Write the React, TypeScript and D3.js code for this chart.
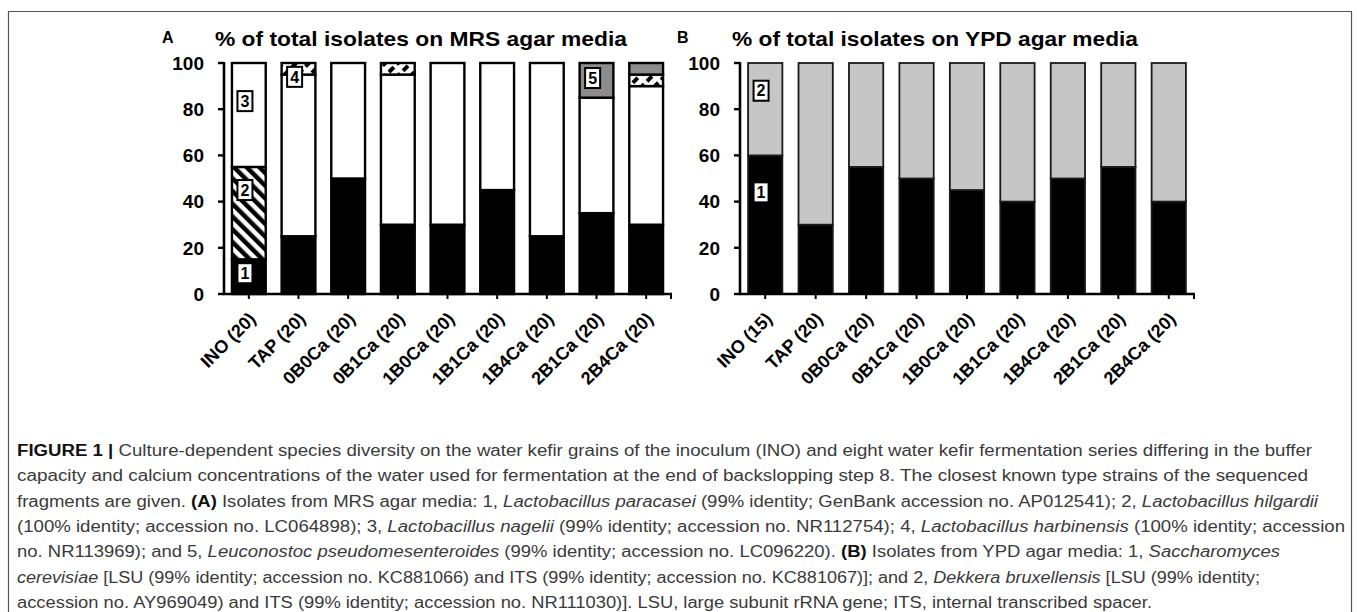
import React from "react";
import * as d3 from "d3";

// ---------- data ----------
const catsA = ["INO (20)", "TAP (20)", "0B0Ca (20)", "0B1Ca (20)", "1B0Ca (20)", "1B1Ca (20)", "1B4Ca (20)", "2B1Ca (20)", "2B4Ca (20)"];
const catsB = ["INO (15)", "TAP (20)", "0B0Ca (20)", "0B1Ca (20)", "1B0Ca (20)", "1B1Ca (20)", "1B4Ca (20)", "2B1Ca (20)", "2B4Ca (20)"];

// MRS (panel A), stacked bottom -> top, species 1..5
const mrs1 = [15, 25, 50, 30, 30, 45, 25, 35, 30];
const mrs2 = [40, 0, 0, 0, 0, 0, 0, 0, 0];
const mrs3 = [45, 70, 50, 65, 70, 55, 75, 50, 60];
const mrs4 = [0, 5, 0, 5, 0, 0, 0, 0, 5];
const mrs5 = [0, 0, 0, 0, 0, 0, 0, 15, 5];

// YPD (panel B), species 1..2
const ypd1 = [60, 30, 55, 50, 45, 40, 50, 55, 40];
const ypd2 = [40, 70, 45, 50, 55, 60, 50, 45, 60];

const yTicks = [0, 20, 40, 60, 80, 100];

// numbered boxes: [category index, value, text]
const boxesA: [number, number, string][] = [
  [0, 9, "1"],
  [0, 45, "2"],
  [0, 83.5, "3"],
  [1, 94, "4"],
  [7, 93.5, "5"],
];
const boxesB: [number, number, string][] = [
  [0, 44, "1"],
  [0, 88, "2"],
];

const titleA = "% of total isolates on MRS agar media";
const titleB = "% of total isolates on YPD agar media";

const FONT = "Arial, 'Liberation Sans', Helvetica, sans-serif";
const CAPFONT = "'Liberation Sans', Arial, sans-serif";

// ---------- geometry ----------
const W = 1357;
const H = 612;
const yTop = 63;
const yBot = 294;
const y = d3.scaleLinear().domain([0, 100]).range([yBot, yTop]);

type PanelProps = {
  cats: string[];
  series: number[][];
  fills: string[];
  stroke: string;
  strokeW: number;
  x0: number;
  x1: number;
  boxes: [number, number, string][];
  boxDx: number;
};

function Panel({ cats, series, fills, stroke, strokeW, x0, x1, boxes, boxDx }: PanelProps) {
  const x = d3.scaleBand<string>().domain(cats).range([x0, x1]).paddingInner(0.32).paddingOuter(0.16);
  const rows = cats.map((c, i) => {
    const o: any = { cat: c };
    series.forEach((s, k) => (o["s" + k] = s[i]));
    return o;
  });
  const keys = series.map((_, k) => "s" + k);
  const stacked = d3.stack<any>().keys(keys)(rows);
  const bw = x.bandwidth();
  return (
    <g>
      {stacked.map((layer, k) =>
        layer.map((d, i) => {
          if (d[1] - d[0] <= 0) return null;
          return (
            <rect
              key={k + "-" + i}
              x={x(cats[i])!}
              y={y(d[1])}
              width={bw}
              height={y(d[0]) - y(d[1])}
              fill={fills[k]}
              stroke={stroke}
              strokeWidth={strokeW}
            />
          );
        })
      )}
      {/* y axis */}
      <line x1={x0} x2={x0} y1={y(0)} y2={y(100) - 1} stroke="#000" strokeWidth={2.6} />
      {yTicks.map((t) => (
        <g key={t}>
          <line x1={x0 - 6} x2={x0} y1={y(t)} y2={y(t)} stroke="#000" strokeWidth={2.4} />
          <text x={x0 - 20} y={y(t)} dy="0.36em" textAnchor="end" fontFamily={FONT} fontWeight="bold" fontSize={19} fill="#000">
            {t}
          </text>
        </g>
      ))}
      {/* x axis */}
      <line x1={x0 - 1} x2={x1 + 1} y1={y(0)} y2={y(0)} stroke="#000" strokeWidth={2.6} />
      {cats.map((c) => (
        <line key={c} x1={x(c)! + bw / 2} x2={x(c)! + bw / 2} y1={y(0)} y2={y(0) + 5} stroke="#000" strokeWidth={2} />
      ))}
      <line x1={x1} x2={x1} y1={y(0)} y2={y(0) + 5} stroke="#000" strokeWidth={2} />
      {cats.map((c) => {
        const cx = x(c)! + bw / 2 + 8;
        const cy = y(0) + 26;
        return (
          <text
            key={"l" + c}
            x={cx}
            y={cy}
            transform={`rotate(-45 ${cx} ${cy})`}
            textAnchor="end"
            fontFamily={FONT}
            fontWeight="bold"
            fontSize={18}
            fill="#000"
          >
            {c}
          </text>
        );
      })}
      {boxes.map(([ci, v, t]) => {
        const cx = x(cats[ci])! + boxDx;
        const cy = y(v);
        return (
          <g key={"b" + t}>
            <rect x={cx - 7.5} y={cy - 10} width={15} height={20} fill="#fff" stroke="#000" strokeWidth={2} />
            <text x={cx} y={cy} dy="0.36em" textAnchor="middle" fontFamily={FONT} fontWeight="bold" fontSize={16} fill="#000">
              {t}
            </text>
          </g>
        );
      })}
    </g>
  );
}

const captionLines: { parts: { t: string; b?: boolean; i?: boolean }[]; end: number }[] = [
  {
    parts: [
      { t: "FIGURE 1 | ", b: true },
      { t: "Culture-dependent species diversity on the water kefir grains of the inoculum (INO) and eight water kefir fermentation series differing in the buffer" },
    ],
    end: 1312,
  },
  {
    parts: [
      { t: "capacity and calcium concentrations of the water used for fermentation at the end of backslopping step 8. The closest known type strains of the sequenced" },
    ],
    end: 1308,
  },
  {
    parts: [
      { t: "fragments are given. " },
      { t: "(A)", b: true },
      { t: " Isolates from MRS agar media: 1, " },
      { t: "Lactobacillus paracasei", i: true },
      { t: " (99% identity; GenBank accession no. AP012541); 2, " },
      { t: "Lactobacillus hilgardii", i: true },
    ],
    end: 1318,
  },
  {
    parts: [
      { t: "(100% identity; accession no. LC064898); 3, " },
      { t: "Lactobacillus nagelii", i: true },
      { t: " (99% identity; accession no. NR112754); 4, " },
      { t: "Lactobacillus harbinensis", i: true },
      { t: " (100% identity; accession" },
    ],
    end: 1345,
  },
  {
    parts: [
      { t: "no. NR113969); and 5, " },
      { t: "Leuconostoc pseudomesenteroides", i: true },
      { t: " (99% identity; accession no. LC096220). " },
      { t: "(B)", b: true },
      { t: " Isolates from YPD agar media: 1, " },
      { t: "Saccharomyces", i: true },
    ],
    end: 1280,
  },
  {
    parts: [
      { t: "cerevisiae", i: true },
      { t: " [LSU (99% identity; accession no. KC881066) and ITS (99% identity; accession no. KC881067)]; and 2, " },
      { t: "Dekkera bruxellensis", i: true },
      { t: " [LSU (99% identity;" },
    ],
    end: 1260,
  },
  {
    parts: [
      { t: "accession no. AY969049) and ITS (99% identity; accession no. NR111030)]. LSU, large subunit rRNA gene; ITS, internal transcribed spacer." },
    ],
    end: 1152,
  },
];

export default function App() {
  const capX = 17;
  return (
    <div style={{ position: "absolute", left: 0, top: 0, width: W, height: H, overflow: "hidden", background: "#fff" }}>
      <svg width={W} height={H} viewBox={`0 0 ${W} ${H}`} style={{ display: "block" }}>
        <defs>
          <pattern id="hatchDown" patternUnits="userSpaceOnUse" width={9} height={9} patternTransform="rotate(-45)">
            <rect x={0} y={0} width={9} height={9} fill="#fff" />
            <rect x={0} y={0} width={4.5} height={9} fill="#000" />
          </pattern>
          <pattern id="hatchUpDash" patternUnits="userSpaceOnUse" width={9} height={11} patternTransform="rotate(45)">
            <rect x={0} y={0} width={9} height={11} fill="#fff" />
            <rect x={0} y={0} width={4} height={7} fill="#000" />
          </pattern>
        </defs>
        <rect x={0} y={0} width={W} height={H} fill="#fff" />
        {/* frame */}
        <path d={`M8.5,${H + 5} V11.5 H1351.5 V${H + 5}`} fill="none" stroke="#555" strokeWidth={1.2} />

        {/* panel letters and titles */}
        <text x={162} y={37} dy="0.36em" fontFamily={FONT} fontWeight="bold" fontSize={16}>A</text>
        <text x={215} y={38} dy="0.36em" fontFamily={FONT} fontWeight="bold" fontSize={21} textLength={412} lengthAdjust="spacingAndGlyphs">
          {titleA}
        </text>
        <text x={677} y={37} dy="0.36em" fontFamily={FONT} fontWeight="bold" fontSize={16}>B</text>
        <text x={732} y={38} dy="0.36em" fontFamily={FONT} fontWeight="bold" fontSize={21} textLength={406} lengthAdjust="spacingAndGlyphs">
          {titleB}
        </text>

        <Panel
          cats={catsA}
          series={[mrs1, mrs2, mrs3, mrs4, mrs5]}
          fills={["#000", "url(#hatchDown)", "#fff", "url(#hatchUpDash)", "#8c8c8c"]}
          stroke="#000"
          strokeW={2.4}
          x0={224}
          x1={671}
          boxes={boxesA}
          boxDx={13}
        />
        <Panel
          cats={catsB}
          series={[ypd1, ypd2]}
          fills={["#000", "#c6c6c6"]}
          stroke="#1a1a1a"
          strokeW={1.8}
          x0={740}
          x1={1194}
          boxes={boxesB}
          boxDx={13}
        />

        {/* caption */}
        {captionLines.map((ln, i) => (
          <text
            key={i}
            x={capX}
            y={450 + i * 25.4}
            dy="0.36em"
            fontFamily={CAPFONT}
            fontSize={16}
            fill="#3a3a3a"
            textLength={ln.end - capX}
            lengthAdjust="spacingAndGlyphs"
          >
            {ln.parts.map((p, j) => (
              <tspan key={j} fontWeight={p.b ? "bold" : "normal"} fontStyle={p.i ? "italic" : "normal"} fill={p.b ? "#111" : "#3a3a3a"}>
                {p.t}
              </tspan>
            ))}
          </text>
        ))}
      </svg>
    </div>
  );
}
